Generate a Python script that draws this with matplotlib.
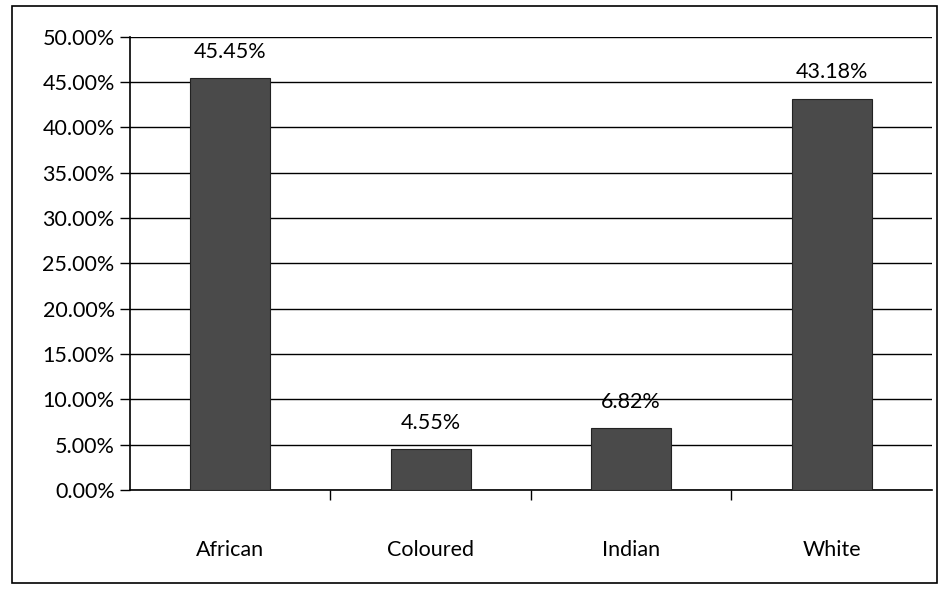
import matplotlib.pyplot as plt
from matplotlib.patches import Rectangle
from matplotlib.ticker import FuncFormatter, MultipleLocator, FixedLocator

categories = ["African", "Coloured", "Indian", "White"]
shares = [45.45, 4.55, 6.82, 43.18]
labels = ["45.45%", "4.55%", "6.82%", "43.18%"]

plt.rcParams['font.family'] = ['Lato', 'DejaVu Sans']

fig = plt.figure(figsize=(9.49, 5.94), dpi=100)
ax = fig.add_axes([0.137, 0.175, 0.845, 0.763])

# outer chart border
fig.patches.append(Rectangle((0.013, 0.018), 0.974, 0.972, transform=fig.transFigure,
                             fill=False, edgecolor="black", linewidth=1.2))

x = range(len(categories))
ax.bar(x, shares, width=0.4, color="#4a4a4a", edgecolor="#222222", linewidth=0.8, zorder=3)

for i, v in enumerate(shares):
    ax.text(i, v + 2.9, labels[i], ha="center", va="center", fontsize=15.5)

ax.set_ylim(0, 50)
ax.set_xlim(-0.5, 3.5)
ax.yaxis.set_major_locator(MultipleLocator(5))
ax.yaxis.set_major_formatter(FuncFormatter(lambda v, p: f"{v:.2f}%"))
ax.grid(axis="y", color="black", linewidth=1.0, zorder=0)

ax.set_xticks(list(x))
ax.set_xticklabels(categories)
ax.xaxis.set_minor_locator(FixedLocator([0.5, 1.5, 2.5]))
ax.tick_params(axis="x", which="major", length=0, pad=36, labelsize=15.5)
ax.tick_params(axis="x", which="minor", length=7, width=1, direction="out")
ax.tick_params(axis="y", length=7, width=1, labelsize=15.5, pad=4)

for s in ["top", "right"]:
    ax.spines[s].set_visible(False)
ax.spines["left"].set_linewidth(1.2)
ax.spines["bottom"].set_linewidth(1.2)

fig.savefig("out.png", dpi=100)
